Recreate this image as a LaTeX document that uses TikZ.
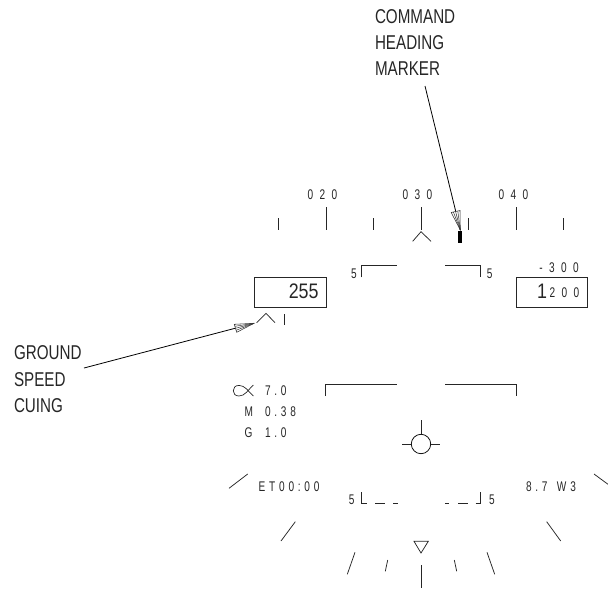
\documentclass[tikz,border=0pt]{standalone}
\usepackage{fontspec}
\usetikzlibrary{calc}
\setmainfont{Liberation Sans}
\newfontfamily\bigfam[FakeStretch=0.85]{Liberation Sans}
\newfontfamily\calfam[FakeStretch=0.76]{Liberation Sans}
\newfontfamily\smfam[FakeStretch=0.72]{Liberation Sans}
\newfontfamily\hudfam[FakeStretch=0.72,LetterSpace=46]{Liberation Sans}
\newfontfamily\hudtight[FakeStretch=0.72,LetterSpace=27]{Liberation Sans}
\tikzset{
  ln/.style={draw=black!85,line width=0.75pt},
  txt/.style={inner sep=0pt,outer sep=0pt,text=black!85},
  hud/.style={txt,font=\hudfam\fontsize{14}{14}\selectfont},
  hudt/.style={txt,font=\hudtight\fontsize{14}{14}\selectfont},
  small/.style={txt,font=\smfam\fontsize{14}{14}\selectfont},
  big/.style={txt,font=\bigfam\fontsize{21}{21}\selectfont},
  callout/.style={txt,anchor=west,font=\calfam\fontsize{20}{20}\selectfont},
  lead/.style={draw=black,line width=0.8pt},
  hatch/.style={draw=black!80,line width=0.55pt,fill=white}
}
\begin{document}
\begin{tikzpicture}[x=1pt,y=-1pt]
\useasboundingbox (0,0) rectangle (608,590);
% callouts
\node[callout] (cmd1) at (375,17) {COMMAND};
\node[callout] (cmd2) at (375,43) {HEADING};
\node[callout] (cmd3) at (375,69) {MARKER};
\node[callout] (gs1) at (14,353) {GROUND};
\node[callout] (gs2) at (14,379.5) {SPEED};
\node[callout] (gs3) at (14,406) {CUING};
% heading scale
\node[hud] (h20) at (322.4,194.7) {020};
\node[hud] (h30) at (417.5,194.7) {030};
\node[hud] (h40) at (513.4,194.7) {040};
\foreach \x in {278,373.7,468,563.7} \draw[ln] (\x,218) -- (\x,230);
\foreach \x in {326,421,516} \draw[ln] (\x,207) -- (\x,230);
\draw[ln] (412.7,241.3) -- (421,231.7) -- (431,241.3);
\fill[black] (458,231) rectangle (461.7,242.7);
% speed and altitude boxes
\node[draw=black!85,line width=0.75pt,minimum width=71.7pt,minimum height=29.6pt,inner sep=0pt] (spd) at (290.2,292.5) {};
\node[draw=black!85,line width=0.75pt,minimum width=71.3pt,minimum height=29.6pt,inner sep=0pt] (alt) at (551.7,292.5) {};
\node[big] (v255) at (303.7,291.7) {255};
\node[hud] (vs) at (559,267.3) {-300};
\node[big] (a1) at (542,291.7) {1};
\node[hud] (a200) at (564.5,292.7) {200};
% upper brackets
\draw[ln] (361.7,277.3) -- (361.7,265.7) -- (397,265.7);
\draw[ln] (445,265.7) -- (480.3,265.7) -- (480.3,277.3);
\node[small] (u5l) at (354,273.3) {5};
\node[small] (u5r) at (489.7,273.3) {5};
% ground speed cue
\draw[ln] (256.7,322.7) -- (266,313.3) -- (275,322.7);
\draw[ln] (284.3,314) -- (284.3,325.3);
% data block
\draw[ln,line width=0.7pt] (253.3,385) .. controls (248,390) and (245,396) .. (239,396) .. controls (235,396) and (233.3,393.5) .. (233.3,390.7) .. controls (233.3,388) and (235,385.4) .. (239,385.4) .. controls (245,385.4) and (248,391) .. (253.3,396);
\node[hudt,anchor=west] (al) at (265,390.7) {7.0};
\node[hudt,anchor=west] (mm) at (244.7,411.7) {M};
\node[hudt,anchor=west] (mv) at (265,411.7) {0.38};
\node[hudt,anchor=west] (gg) at (244.7,433) {G};
\node[hudt,anchor=west] (gv) at (265,433) {1.0};
% horizon bracket
\draw[ln] (325.7,396) -- (325.7,384.3) -- (397.3,384.3);
\draw[ln] (445,384.3) -- (516,384.3) -- (516,396);
% velocity vector
\node[draw=black,line width=0.75pt,circle,minimum size=19.4pt,inner sep=0pt] (fpm) at (421,444) {};
\draw[ln] (fpm.north) -- (421,420);
\draw[ln] (fpm.west) -- (402.3,444);
\draw[ln] (fpm.east) -- (440,444);
% lower bracket
\node[small] (l5l) at (351.7,500) {5};
\node[small] (l5r) at (492,500) {5};
\draw[ln] (361.7,492.3) -- (361.7,503.3) -- (366.7,503.3);
\draw[ln] (375,503.3) -- (385,503.3);
\draw[ln] (393.3,503.3) -- (397.7,503.3);
\draw[ln] (445,503.3) -- (449.3,503.3);
\draw[ln] (458.3,503.3) -- (467.7,503.3);
\draw[ln] (475.7,503.3) -- (480.3,503.3) -- (480.3,492.3);
\node[hudt,anchor=west] (et) at (258.7,486.7) {ET00:00};
\node[hudt,anchor=west] (wp) at (526,487) {8.7\hspace{9.4pt}W3};
% bank scale
\draw[ln] (229,488.3) -- (247.7,474);
\draw[ln] (281,541) -- (295.3,521.7);
\draw[ln] (347.3,574.3) -- (355,552.3);
\draw[ln] (385.3,571.3) -- (387.7,560);
\draw[ln] (421,565) -- (421,588.3);
\draw[ln] (456.7,571.3) -- (454.3,560);
\draw[ln] (494.7,574.3) -- (487,552.3);
\draw[ln] (560.7,541) -- (546.7,521.7);
\draw[ln] (608,484.3) -- (594,474);
\draw[ln] (414,541.3) -- (428.3,541.3) -- (421,553) -- cycle;
% leader lines with hatched heads
\coordinate (cs) at (425,86);
\coordinate (ct) at (460.3,230);
\coordinate (ca) at (451.2,212.5);
\coordinate (cb) at (460,210.5);
\draw[lead] (cs) -- (ct);
\draw[hatch] (ca) -- (ct) -- (cb) -- cycle;
\foreach \f in {0.25,0.5,0.75} \draw[black!80,line width=0.5pt] ($(ca)!\f!(cb)$) -- (ct);
\coordinate (gsS) at (84,368);
\coordinate (gt) at (254,323.3);
\coordinate (ga) at (234.3,324.3);
\coordinate (gb) at (236.7,332.3);
\draw[lead] (gsS) -- (gt);
\draw[hatch] (ga) -- (gt) -- (gb) -- cycle;
\foreach \f in {0.25,0.5,0.75} \draw[black!80,line width=0.5pt] ($(ga)!\f!(gb)$) -- (gt);
\end{tikzpicture}
\end{document}
